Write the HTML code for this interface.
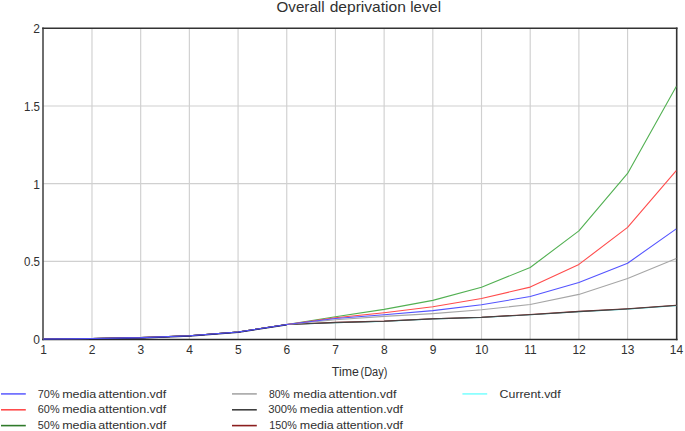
<!DOCTYPE html>
<html><head><meta charset="utf-8"><style>
html,body{margin:0;padding:0;background:#fff;overflow:hidden;width:685px;height:431px;}
svg{display:block;}
text{font-family:"Liberation Sans",sans-serif;fill:#303030;}
</style></head><body>
<svg width="685" height="431" viewBox="0 0 685 431">
<rect width="685" height="431" fill="#fff"/>
<g stroke="#d0d0d0" stroke-width="1.15">
<line x1="91.99" y1="28.2" x2="91.99" y2="339.5"/>
<line x1="140.68" y1="28.2" x2="140.68" y2="339.5"/>
<line x1="189.37" y1="28.2" x2="189.37" y2="339.5"/>
<line x1="238.06" y1="28.2" x2="238.06" y2="339.5"/>
<line x1="286.75" y1="28.2" x2="286.75" y2="339.5"/>
<line x1="335.44" y1="28.2" x2="335.44" y2="339.5"/>
<line x1="384.13" y1="28.2" x2="384.13" y2="339.5"/>
<line x1="432.82" y1="28.2" x2="432.82" y2="339.5"/>
<line x1="481.51" y1="28.2" x2="481.51" y2="339.5"/>
<line x1="530.20" y1="28.2" x2="530.20" y2="339.5"/>
<line x1="578.89" y1="28.2" x2="578.89" y2="339.5"/>
<line x1="627.58" y1="28.2" x2="627.58" y2="339.5"/>
<line x1="43.0" y1="261.35" x2="676.7" y2="261.35"/>
<line x1="43.0" y1="183.65" x2="676.7" y2="183.65"/>
<line x1="43.0" y1="105.95" x2="676.7" y2="105.95"/>
</g>
<line x1="43.0" y1="27.4" x2="43.0" y2="340.2" stroke="#4a4a4a" stroke-width="1.6"/>
<line x1="676.7" y1="27.4" x2="676.7" y2="340.2" stroke="#333" stroke-width="1.6"/>
<line x1="42.2" y1="28.2" x2="677.5" y2="28.2" stroke="#333" stroke-width="1.6"/>
<line x1="42.2" y1="339.5" x2="677.5" y2="339.5" stroke="#2a2a2a" stroke-width="1.4"/>
<g>
<polyline fill="none" stroke="#80ffff" stroke-width="1.1" stroke-linejoin="round" points="43.30,339.05 91.99,338.43 140.68,337.65 189.37,335.79 238.06,332.06 286.75,324.44 335.44,322.70 384.13,321.40 432.82,319.00 481.51,317.50 530.20,314.80 578.89,311.70 627.58,309.10 676.27,305.60"/>
<polyline fill="none" stroke="#8b1e1e" stroke-width="1.1" stroke-linejoin="round" points="43.30,339.05 91.99,338.43 140.68,337.65 189.37,335.79 238.06,332.06 286.75,324.44 335.44,322.40 384.13,321.10 432.82,318.70 481.51,317.20 530.20,314.50 578.89,311.40 627.58,308.80 676.27,305.30"/>
<polyline fill="none" stroke="#464646" stroke-width="1.1" stroke-linejoin="round" points="43.30,339.05 91.99,338.43 140.68,337.65 189.37,335.79 238.06,332.06 286.75,324.44 335.44,322.60 384.13,321.30 432.82,318.90 481.51,317.40 530.20,314.70 578.89,311.60 627.58,309.00 676.27,305.50"/>
<polyline fill="none" stroke="#a6a6a6" stroke-width="1.1" stroke-linejoin="round" points="43.30,339.05 91.99,338.43 140.68,337.65 189.37,335.79 238.06,332.06 286.75,324.44 335.44,319.70 384.13,316.40 432.82,313.60 481.51,309.80 530.20,304.50 578.89,294.40 627.58,278.60 676.27,258.60"/>
<polyline fill="none" stroke="#52b052" stroke-width="1.1" stroke-linejoin="round" points="43.30,339.05 91.99,338.43 140.68,337.65 189.37,335.79 238.06,332.06 286.75,324.44 335.44,316.80 384.13,309.40 432.82,300.40 481.51,287.20 530.20,267.50 578.89,230.90 627.58,173.40 676.27,86.60"/>
<polyline fill="none" stroke="#ff4c4c" stroke-width="1.1" stroke-linejoin="round" points="43.30,339.05 91.99,338.43 140.68,337.65 189.37,335.79 238.06,332.06 286.75,324.44 335.44,317.70 384.13,312.70 432.82,306.70 481.51,298.50 530.20,287.10 578.89,264.40 627.58,227.40 676.27,170.60"/>
<polyline fill="none" stroke="#1c1c50" stroke-width="1.5" stroke-linejoin="round" points="43.30,339.30 91.99,338.68 140.68,337.90 189.37,336.04 238.06,332.31 286.75,324.69"/>
<polyline fill="none" stroke="#5454ff" stroke-width="1.1" stroke-linejoin="round" points="43.30,339.05 91.99,338.43 140.68,337.65 189.37,335.79 238.06,332.06 286.75,324.44 335.44,318.50 384.13,314.70 432.82,310.60 481.51,304.80 530.20,296.50 578.89,282.50 627.58,263.20 676.27,228.90"/>
</g>
<g font-size="12">
<text x="43.50" y="353.7" text-anchor="middle">1</text>
<text x="92.19" y="353.7" text-anchor="middle">2</text>
<text x="140.88" y="353.7" text-anchor="middle">3</text>
<text x="189.57" y="353.7" text-anchor="middle">4</text>
<text x="238.26" y="353.7" text-anchor="middle">5</text>
<text x="286.95" y="353.7" text-anchor="middle">6</text>
<text x="335.64" y="353.7" text-anchor="middle">7</text>
<text x="384.33" y="353.7" text-anchor="middle">8</text>
<text x="433.02" y="353.7" text-anchor="middle">9</text>
<text x="481.71" y="353.7" text-anchor="middle">10</text>
<text x="530.40" y="353.7" text-anchor="middle">11</text>
<text x="579.09" y="353.7" text-anchor="middle">12</text>
<text x="627.78" y="353.7" text-anchor="middle">13</text>
<text x="676.47" y="353.7" text-anchor="middle">14</text>
<text x="40.0" y="344.05" text-anchor="end">0</text>
<text x="40.0" y="266.35" text-anchor="end" textLength="16.0" lengthAdjust="spacingAndGlyphs">0.5</text>
<text x="40.0" y="188.65" text-anchor="end">1</text>
<text x="40.0" y="110.95" text-anchor="end" textLength="16.0" lengthAdjust="spacingAndGlyphs">1.5</text>
<text x="40.0" y="33.25" text-anchor="end">2</text>
</g>
<text id="t1" x="276.60" y="12.3" font-size="15" textLength="47.93" lengthAdjust="spacingAndGlyphs">Overall</text>
<text id="t2" x="329.65" y="12.3" font-size="15" textLength="76.25" lengthAdjust="spacingAndGlyphs">deprivation</text>
<text id="t3" x="410.31" y="12.3" font-size="15" textLength="30.66" lengthAdjust="spacingAndGlyphs">level</text>
<text id="time1" x="331.85" y="375.8" font-size="12" textLength="26.98" lengthAdjust="spacingAndGlyphs">Time</text>
<text id="time2" x="360.49" y="375.8" font-size="12" textLength="26.83" lengthAdjust="spacingAndGlyphs">(Day)</text>
<text id="lcur" x="499.64" y="397.7" font-size="11.5" textLength="61.03" lengthAdjust="spacingAndGlyphs">Current.vdf</text>
<text id="l70_0" x="37.82" y="397.5" font-size="11.5" textLength="21.78" lengthAdjust="spacingAndGlyphs">70%</text>
<text id="l70_1" x="62.17" y="397.5" font-size="11.5" textLength="34.00" lengthAdjust="spacingAndGlyphs">media</text>
<text id="l70_2" x="98.25" y="397.5" font-size="11.5" textLength="68.01" lengthAdjust="spacingAndGlyphs">attention.vdf</text>
<text id="l60_0" x="37.82" y="413.4" font-size="11.5" textLength="21.78" lengthAdjust="spacingAndGlyphs">60%</text>
<text id="l60_1" x="62.17" y="413.4" font-size="11.5" textLength="34.00" lengthAdjust="spacingAndGlyphs">media</text>
<text id="l60_2" x="98.25" y="413.4" font-size="11.5" textLength="68.01" lengthAdjust="spacingAndGlyphs">attention.vdf</text>
<text id="l50_0" x="37.82" y="428.8" font-size="11.5" textLength="21.78" lengthAdjust="spacingAndGlyphs">50%</text>
<text id="l50_1" x="62.17" y="428.8" font-size="11.5" textLength="34.00" lengthAdjust="spacingAndGlyphs">media</text>
<text id="l50_2" x="98.25" y="428.8" font-size="11.5" textLength="68.01" lengthAdjust="spacingAndGlyphs">attention.vdf</text>
<text id="l80_0" x="269.05" y="397.5" font-size="11.5" textLength="20.79" lengthAdjust="spacingAndGlyphs">80%</text>
<text id="l80_1" x="293.34" y="397.5" font-size="11.5" textLength="33.08" lengthAdjust="spacingAndGlyphs">media</text>
<text id="l80_2" x="328.48" y="397.5" font-size="11.5" textLength="68.01" lengthAdjust="spacingAndGlyphs">attention.vdf</text>
<text id="l300_0" x="268.32" y="413.4" font-size="11.5" textLength="28.80" lengthAdjust="spacingAndGlyphs">300%</text>
<text id="l300_1" x="299.77" y="413.4" font-size="11.5" textLength="34.00" lengthAdjust="spacingAndGlyphs">media</text>
<text id="l300_2" x="336.16" y="413.4" font-size="11.5" textLength="66.79" lengthAdjust="spacingAndGlyphs">attention.vdf</text>
<text id="l150_0" x="269.16" y="428.8" font-size="11.5" textLength="27.56" lengthAdjust="spacingAndGlyphs">150%</text>
<text id="l150_1" x="299.77" y="428.8" font-size="11.5" textLength="34.00" lengthAdjust="spacingAndGlyphs">media</text>
<text id="l150_2" x="336.16" y="428.8" font-size="11.5" textLength="66.79" lengthAdjust="spacingAndGlyphs">attention.vdf</text>
<line x1="1" y1="393.9" x2="25.8" y2="393.9" stroke="#6464ff" stroke-width="1.6"/>
<line x1="1" y1="409.8" x2="25.8" y2="409.8" stroke="#ff4c4c" stroke-width="1.6"/>
<line x1="1" y1="425.6" x2="25.8" y2="425.6" stroke="#2f7a2a" stroke-width="1.6"/>
<line x1="232" y1="393.9" x2="256.8" y2="393.9" stroke="#a6a6a6" stroke-width="1.6"/>
<line x1="232" y1="409.8" x2="256.8" y2="409.8" stroke="#404040" stroke-width="1.6"/>
<line x1="232" y1="425.6" x2="256.8" y2="425.6" stroke="#8b1e1e" stroke-width="1.6"/>
<line x1="462.4" y1="393.9" x2="487.2" y2="393.9" stroke="#80ffff" stroke-width="1.6"/>
</svg>
</body></html>
